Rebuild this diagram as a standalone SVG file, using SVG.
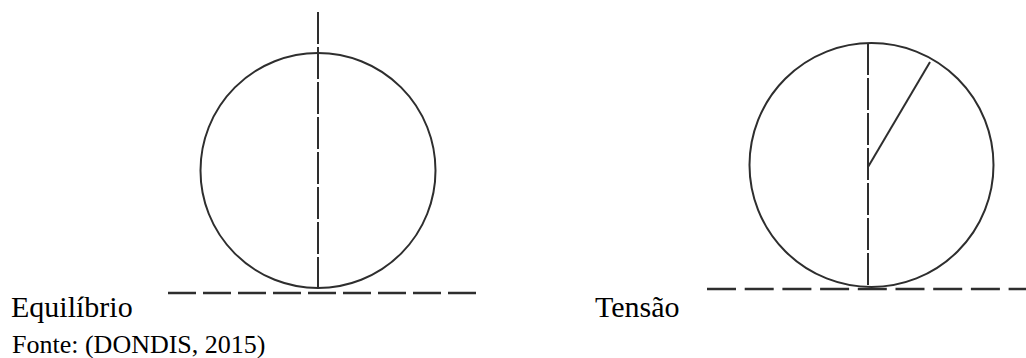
<svg xmlns="http://www.w3.org/2000/svg" width="1026" height="358" viewBox="0 0 1026 358">
<style>
.shape{fill:none;stroke:#2e2e2e;stroke-width:2}
.vdash{fill:none;stroke:#2e2e2e;stroke-width:2;stroke-dasharray:32 3}
.hdash{fill:none;stroke:#2e2e2e;stroke-width:2.5;stroke-dasharray:28 7}
.lbl{font-family:"Liberation Serif","Times New Roman",serif;fill:#000}
</style>
<rect width="1026" height="358" fill="#fff"/>
<g id="equilibrio">
<circle class="shape" cx="318" cy="170.5" r="117.5"/>
<line class="vdash" x1="318" y1="12" x2="318" y2="290"/>
<line class="hdash" x1="168" y1="293" x2="483" y2="293"/>
</g>
<g id="tensao">
<circle class="shape" cx="871.5" cy="165" r="122"/>
<line class="vdash" x1="868" y1="43" x2="868" y2="287"/>
<line class="shape" x1="868" y1="167" x2="930" y2="62"/>
<line class="hdash" x1="707" y1="289" x2="1026" y2="289" style="stroke-dasharray:29 8.7"/>
</g>
<text class="lbl" x="11" y="317" font-size="30">Equilíbrio</text>
<text class="lbl" x="595" y="317" font-size="30">Tensão</text>
<text class="lbl" x="12" y="353" font-size="26">Fonte: (DONDIS, 2015)</text>
</svg>
